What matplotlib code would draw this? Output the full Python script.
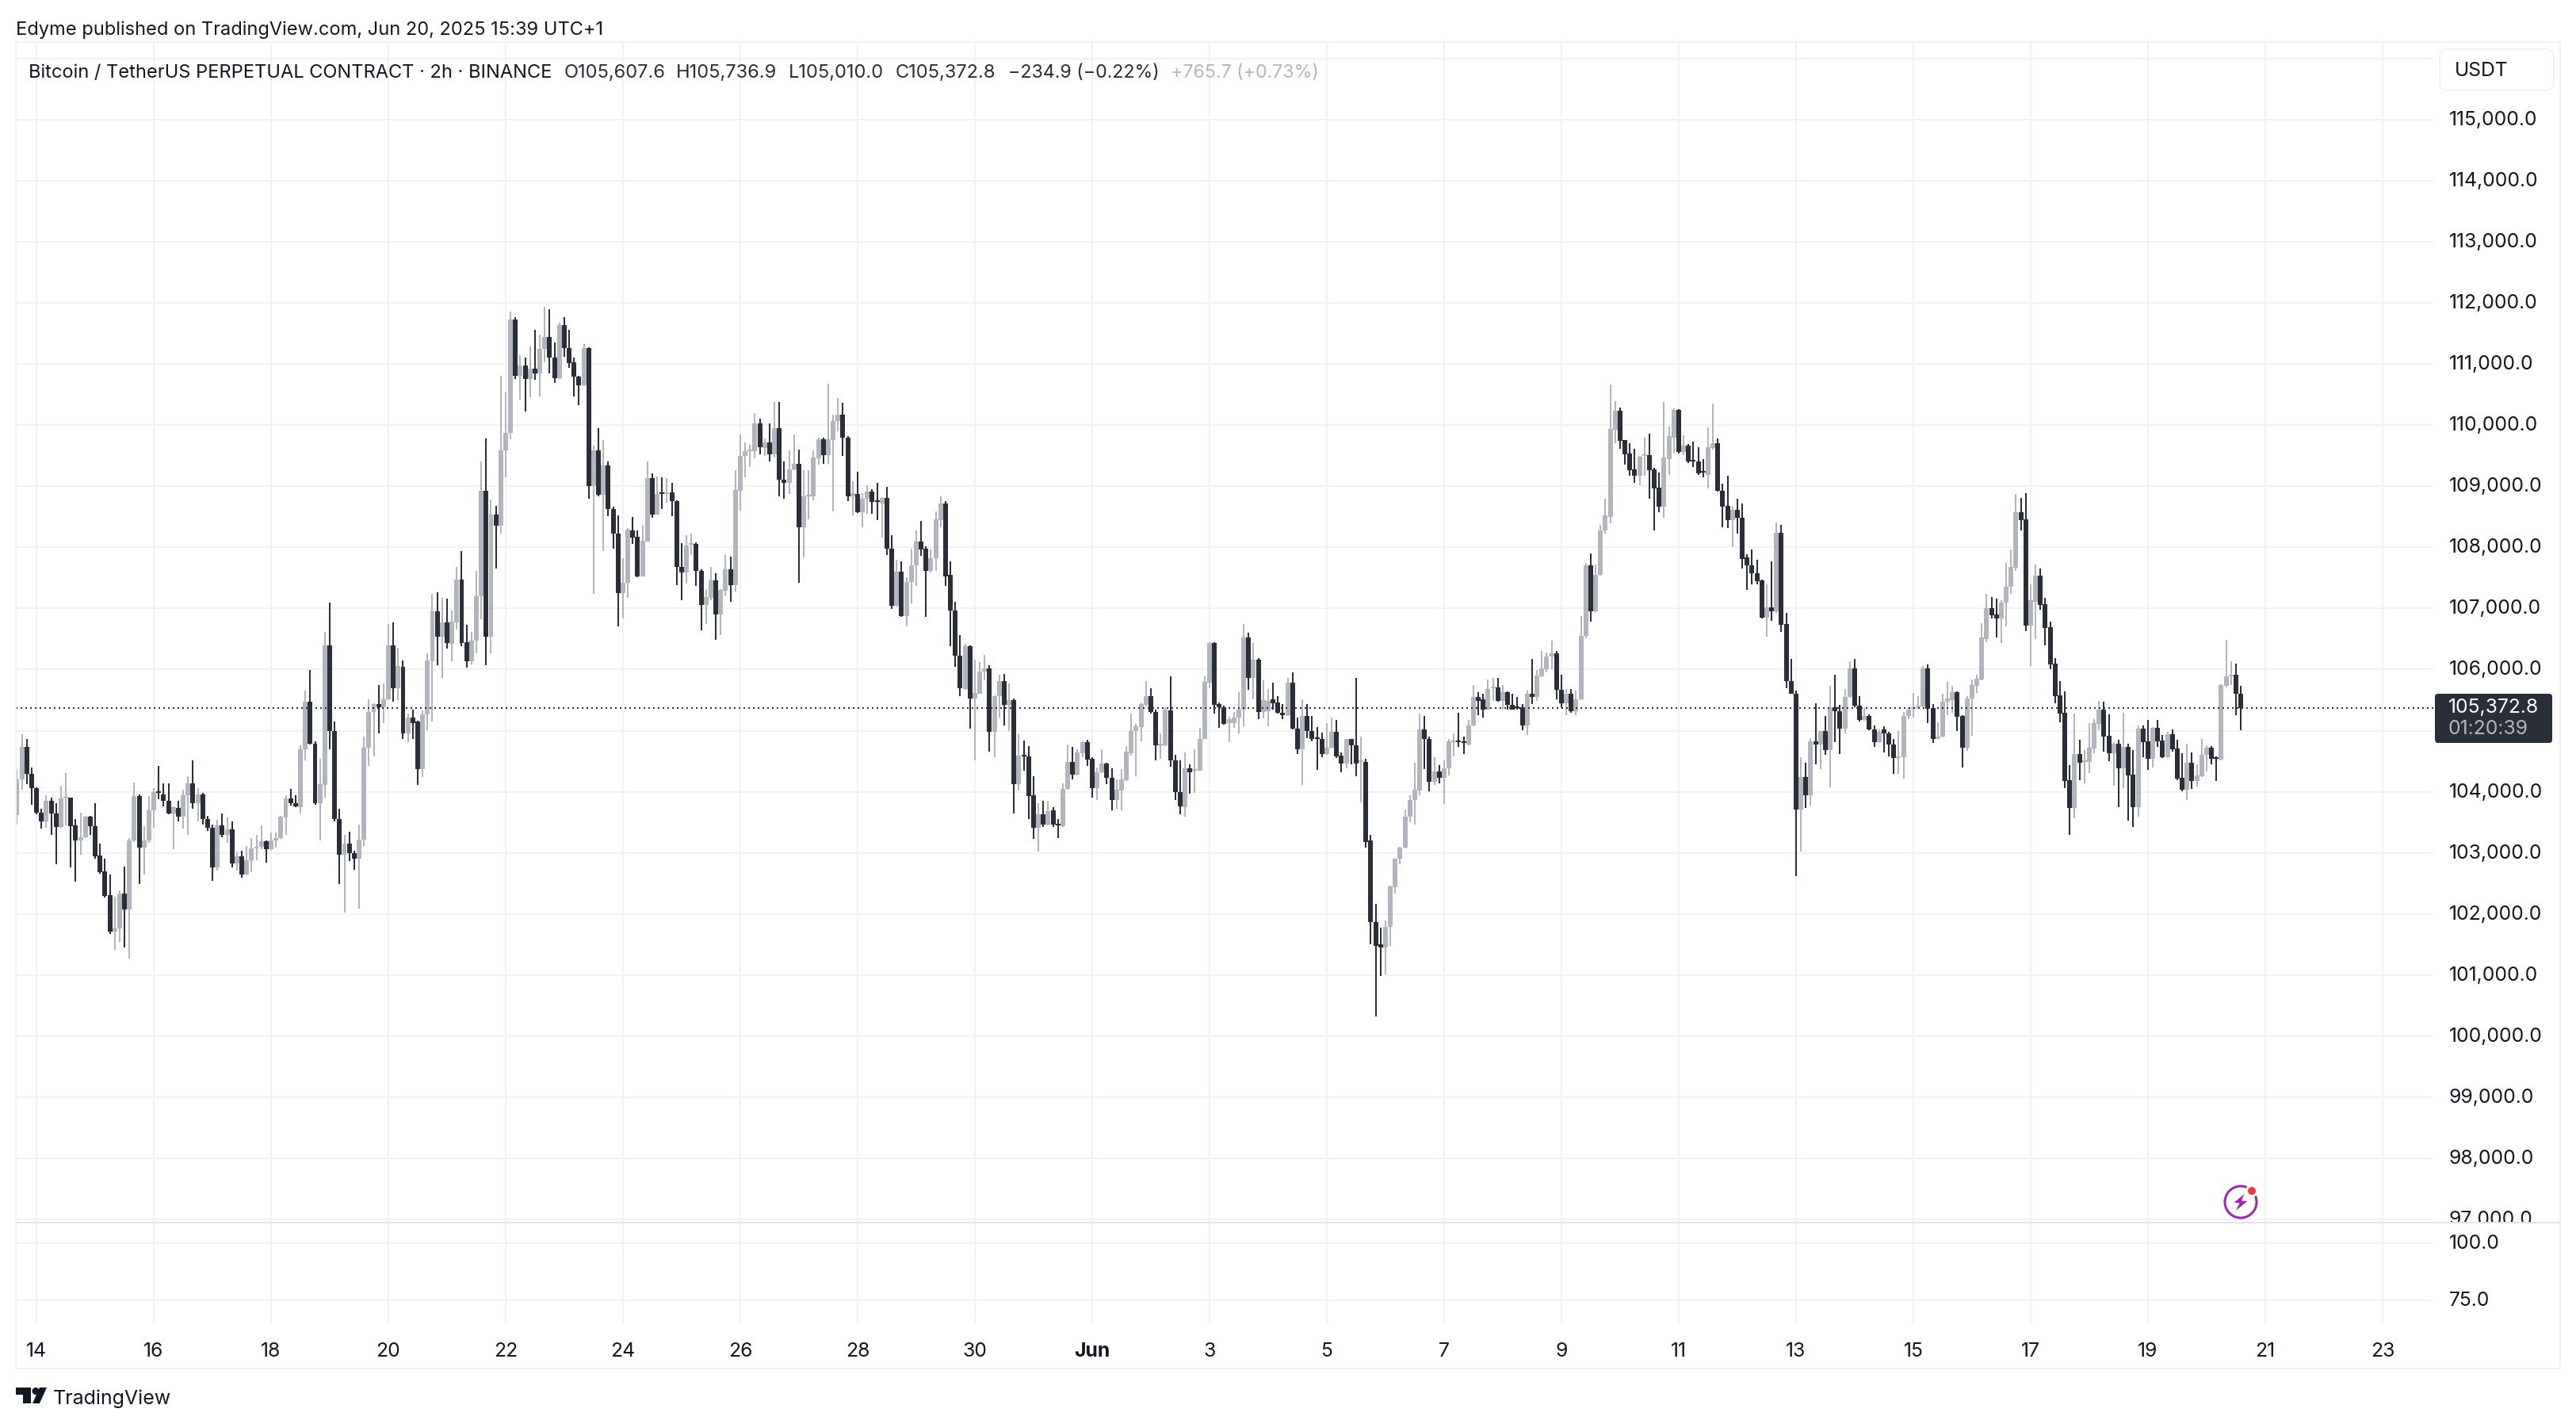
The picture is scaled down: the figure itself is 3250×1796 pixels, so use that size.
import numpy as np
import matplotlib
matplotlib.use("Agg")
import matplotlib.pyplot as plt
from matplotlib.patches import Rectangle, Polygon, Circle, FancyBboxPatch
from matplotlib.transforms import IdentityTransform, ScaledTranslation

# BTCUSDT.P 2h candles, first bar is 13 May 16:00
opens = [
    103620,104200,104730,104290,104060,103660,103520,103850,103640,103420,
    103890,103900,103450,103200,103260,103590,103440,102960,102700,102310,
    101710,101770,102330,102070,103200,103930,103090,103210,103700,104000,
    103960,103850,103640,103740,103590,103940,104140,103810,103960,103550,
    103410,102770,103450,103290,103390,102830,102940,102650,102880,103070,
    103100,103190,103060,103200,103240,103580,103890,103820,103750,104690,
    105470,104790,103810,104110,106390,105000,103550,102970,103150,103000,
    102900,103220,104720,105310,105440,105380,105510,106390,105690,106050,
    104960,105220,105150,104370,105270,106140,106950,106540,106770,106420,
    106770,107470,106450,106130,106470,107200,108930,106540,108540,108350,
    109580,109870,111730,110810,110980,110750,110920,110840,111240,111440,
    111110,110770,111640,111260,111020,110790,110650,111260,109000,109590,
    108860,109340,108630,108220,107250,107420,108280,108170,107530,108100,
    109130,108540,108890,108870,108900,108760,107680,107590,108040,108060,
    107620,107060,107180,107460,106900,107290,107640,107380,108930,109490,
    109570,109570,110030,109630,109710,109520,109950,109110,109050,109270,
    109370,108330,108840,108840,109460,109770,109510,109750,110070,110170,
    109800,108840,108870,108580,108790,108910,108750,108720,108810,107980,
    107040,107600,106870,107430,107700,108090,107980,107610,107820,108450,
    108720,107550,106960,106230,105680,106380,105520,105610,105970,106020,
    104980,105560,105810,105420,105500,104120,104610,104580,103940,103410,
    103630,103470,103700,103480,103440,104050,104490,104280,104630,104810,
    104540,104060,104320,104460,104230,103860,104020,104190,104630,104990,
    105060,105420,105570,105310,104760,104760,105330,104520,104000,103750,
    104380,104340,104350,104870,105790,106430,105430,105390,105130,105130,
    105220,105350,106530,105870,106160,105300,105320,105510,105460,105290,
    105250,105780,105030,104700,105240,104990,104880,104860,104620,104720,
    104980,104590,104460,104860,104760,104490,104490,103200,101870,101500,
    101450,101790,102440,102900,103090,103590,103870,104020,105020,104860,
    104160,104330,104230,104390,104810,104830,104820,104770,105080,105550,
    105510,105350,105700,105710,105490,105630,105420,105390,105380,105080,
    105600,105550,105890,106010,106220,106270,105670,105450,105610,105320,
    105510,106550,107700,106950,107550,108270,108500,109920,110230,109750,
    109530,109270,109170,109500,109510,109270,108980,108660,109450,109800,
    110250,109560,109670,109430,109400,109230,109190,109620,109700,108930,
    108680,108440,108610,108490,107830,107710,107580,107460,106850,107020,
    106950,108240,106740,105810,105610,103710,104240,103950,104830,104770,
    104990,104680,105380,105320,105040,105550,106020,105410,105170,105240,
    105020,104810,105020,104950,104780,104550,104570,105240,105360,105380,
    105400,106020,105370,104870,104900,105470,105500,105630,105240,104720,
    105520,105740,105840,106500,107010,106900,106830,107090,107350,107670,
    108580,108460,106720,107110,107540,107070,106700,106100,105580,105290,
    104190,103740,104620,104490,104490,104710,105110,105350,104920,104630,
    104790,104380,104740,104280,103750,105030,104830,104540,105050,104840,
    104570,104940,104710,104230,104030,104480,104180,104250,104610,104720,
    104570,104530,105740,105890,105920,105607.6,
]
highs = [
    104360,104940,104870,104400,104070,103730,103940,103910,103820,104100,
    104310,103910,103550,103660,103610,103610,103810,103150,102910,102650,
    102280,102390,102780,103240,104150,103960,103440,103930,104060,104430,
    104140,104140,103760,103850,104030,104260,104510,104060,103980,103610,
    103470,103540,103640,103580,103510,103020,103040,103120,103240,103300,
    103450,103200,103340,103340,103610,103940,104050,103940,104760,105650,
    105990,104830,104540,106620,107090,105150,103730,103290,103350,103030,
    103470,104900,105510,105450,105750,105770,106750,106770,106360,106150,
    105280,105350,105160,105330,106270,107240,107270,107180,107160,106970,
    107680,107940,106730,106620,107620,109410,109780,108780,108680,110810,
    110540,111850,111760,111140,111110,111290,111560,111480,111940,111900,
    111350,111680,111760,111560,111110,110800,111330,111270,109670,109950,
    109750,109410,108670,108520,107820,108320,108500,108280,108370,109410,
    109210,109160,109140,109130,109060,108770,108070,108200,108230,108080,
    107640,107320,107680,107580,107320,107880,107850,109260,109840,109710,
    109680,110190,110110,109780,110030,110380,110380,109410,109590,109850,
    109600,109260,109260,109580,109790,109790,110680,110170,110440,110360,
    109820,109080,109240,108890,109020,108950,109050,108820,108990,108200,
    107790,107770,107510,107980,108280,108430,108020,107960,108590,108840,
    108750,107770,107110,106560,106420,106390,106160,106120,106240,106070,
    105580,105920,105930,105770,105520,104940,104840,104750,104260,103820,
    103850,103850,103750,103550,104140,104780,104730,104690,104830,104850,
    104570,104400,104690,104480,104390,104200,104370,104750,105280,105110,
    105460,105810,105690,105350,104960,105390,105890,104600,104510,104640,
    104450,104690,105050,105890,106450,106450,105460,105410,105230,105300,
    105630,106750,106600,106430,106190,105830,105680,105790,105560,105430,
    105860,105950,105220,105510,105430,105240,105060,104970,105130,105220,
    105170,104650,104870,104870,105860,104900,104540,103300,102170,101780,
    101890,102460,102910,103100,103710,103950,104480,105280,105240,104910,
    104570,104440,104520,104860,104960,105290,104910,105180,105750,105630,
    105610,105840,105860,105860,105750,105640,105600,105550,105440,105660,
    106180,105990,106300,106280,106470,106310,105920,105680,105680,105660,
    106870,107750,107900,107720,108370,108790,110660,110390,110290,109760,
    109700,109610,109490,109800,109860,109300,109220,110380,109970,110270,
    110260,109830,109690,109730,109640,109440,109960,110350,109780,109040,
    109170,108660,108790,108720,107890,107960,107800,107470,107400,107770,
    108400,108370,106930,106170,105660,104570,104470,104880,105450,105000,
    105240,105740,105910,105420,105680,106140,106170,105570,105370,105270,
    105090,105020,105070,104980,104860,105000,105300,105380,105620,105570,
    106060,106090,105430,105140,105600,105800,105730,105640,105250,105570,
    105840,105920,106760,107240,107190,107160,107130,107750,107970,108870,
    108810,108890,107390,107720,107650,107180,106780,106190,105810,105640,
    104440,105280,104850,104680,105130,105190,105490,105480,105270,104810,
    104850,105290,104790,104680,105090,105090,105180,105060,105180,104930,
    104980,105020,104850,104630,104790,104640,104450,104870,104760,104750,
    104580,105760,106480,106130,106100,105736.9,
]
lows = [
    103470,104030,104120,103790,103630,103400,103410,103300,102810,103410,
    103450,102760,102530,102970,103240,103290,102910,102660,102270,101680,
    101420,101550,101450,101270,103180,102490,102650,103170,103410,103880,
    103760,103630,103060,103510,103400,103290,103730,103520,103460,103360,
    102540,102710,103260,103170,102760,102710,102590,102640,102680,102880,
    103060,102840,103050,103090,103230,103290,103770,103750,103650,104510,
    104780,103790,103210,103910,104690,103510,102490,102030,102870,102730,
    102090,103110,104430,104580,104960,105130,105500,105480,105500,104870,
    104810,104870,104110,104240,105010,105150,106070,105860,106340,106130,
    106650,106380,106030,106080,106270,106820,106070,106270,107650,108230,
    109140,109770,110750,110420,110220,110450,110740,110470,111030,110850,
    110690,110760,111120,110940,110470,110330,110640,108790,107240,108840,
    107940,108510,107980,106710,106830,107180,108050,107510,107520,108090,
    108490,108530,108630,108730,108510,107380,107130,107410,107880,107370,
    106640,106740,107130,106480,106570,107200,107110,107280,108600,109140,
    109310,109460,109520,109490,109400,109470,108840,108790,108870,109260,
    107420,107830,108460,108770,109350,109370,109370,108590,109900,109490,
    108760,108520,108560,108330,108550,108550,108440,108160,107880,106990,
    107030,106860,106710,107080,107370,107860,106860,107590,107620,108330,
    107370,106380,106040,105560,105670,105040,104510,105600,105830,104660,
    104570,105220,105080,105000,103650,104020,104340,103550,103230,103020,
    103420,103450,103420,103240,103430,104040,104200,104270,104570,104420,
    103910,103860,104310,104120,103700,103730,103700,104180,104590,104260,
    104820,105400,105280,104520,104540,104750,104410,103860,103630,103590,
    103970,103980,104340,104860,105700,105280,105050,105100,104810,105050,
    104960,105070,105670,105510,105190,105200,105070,105350,105280,105190,
    105240,105020,104620,104110,104880,104830,104360,104570,104600,104710,
    104550,104320,104390,104450,104250,103830,103090,101500,100330,100990,
    101010,101480,102330,102820,103080,103500,103470,103950,104370,104010,
    104110,104140,103800,104270,104580,104730,104620,104760,105070,105250,
    105220,105340,105490,105480,105350,105350,105340,105350,105010,104930,
    105440,105490,105880,105950,106000,105510,105380,105250,105290,105260,
    105500,106510,106790,106940,107540,108230,108390,109700,109610,109350,
    109170,109050,109010,109170,108800,108280,108570,108480,109190,109540,
    109530,109510,109380,109320,109180,109140,108960,109600,108910,108330,
    108310,108010,108220,107660,107300,107400,107400,106840,106540,106800,
    106930,106620,105700,105600,102620,103020,103740,103770,104450,104370,
    104610,104070,104810,104620,104960,105540,105380,105150,105160,105010,
    104740,104800,104650,104580,104290,104300,104220,105190,105210,105360,
    105380,105130,104800,104860,104890,105260,105290,105000,104400,104670,
    104920,105620,105820,106450,106830,106530,106440,106710,107240,107620,
    108270,106630,106060,106500,106980,106400,106010,105450,105140,104060,
    103290,103570,104190,104140,104310,104630,105010,104660,104500,104100,
    103750,104060,103530,103420,103590,104570,104360,104400,104740,104550,
    104560,104660,104190,104010,103870,104050,104090,104240,104330,104450,
    104180,104520,105710,105750,105250,105010,
]
closes = [
    104200,104730,104290,104060,103660,103520,103850,103640,103430,103890,
    103910,103440,103200,103260,103600,103440,102950,102680,102300,101710,
    101770,102330,102070,103200,103930,103090,103210,103700,103990,103980,
    103850,103640,103750,103600,103940,104140,103810,103960,103550,103410,
    102770,103450,103290,103390,102830,102940,102650,102880,103070,103100,
    103190,103060,103200,103240,103600,103890,103810,103760,104690,105470,
    104790,103810,104120,106390,105000,103550,102970,103150,103000,102900,
    103220,104720,105310,105430,105390,105510,106390,105690,106060,104960,
    105220,105130,104370,105270,106150,106950,106540,106770,106430,106790,
    107470,106430,106130,106470,107200,108930,106540,108540,108350,109590,
    109870,111730,110810,110980,110750,110920,110840,111240,111440,111110,
    110770,111640,111260,111010,110790,110650,111260,109000,109590,108860,
    109340,108630,108220,107250,107420,108290,108160,107530,108110,109130,
    108540,108870,108870,108900,108760,107680,107590,108030,108060,107620,
    107060,107190,107460,106900,107300,107640,107380,108940,109490,109570,
    109590,110030,109640,109710,109520,109950,109110,109050,109270,109370,
    108330,108840,108860,109470,109770,109510,109770,110070,110170,109800,
    108840,108880,108580,108790,108910,108740,108740,108810,107980,107040,
    107600,106870,107430,107700,108090,107970,107610,107820,108460,108720,
    107530,106960,106230,105690,106380,105520,105620,105970,106020,104980,
    105570,105810,105420,105500,104120,104590,104580,103930,103410,103630,
    103460,103690,103470,103450,104050,104490,104280,104640,104810,104530,
    104060,104320,104460,104230,103860,104030,104200,104660,104990,105070,
    105430,105570,105310,104760,104780,105340,104510,103990,103760,104380,
    104320,104360,104870,105800,106430,105420,105390,105110,105190,105220,
    105350,106530,105870,106160,105300,105500,105490,105450,105290,105250,
    105780,105030,104700,105240,104990,104860,104860,104620,104720,104980,
    104580,104460,104860,104760,104460,104500,103180,101870,101480,101450,
    101790,102450,102900,103090,103600,103870,104030,105020,104860,104160,
    104330,104230,104390,104820,104830,104810,104800,105090,105550,105490,
    105350,105680,105720,105490,105630,105420,105350,105370,105090,105600,
    105550,105900,106020,106220,106260,105670,105450,105600,105320,105510,
    106550,107700,106950,107550,108280,108520,109930,110230,109740,109520,
    109260,109170,109480,109520,109260,108970,108660,109470,109820,110250,
    109560,109670,109410,109400,109210,109220,109640,109700,108920,108670,
    108440,108610,108480,107810,107700,107570,107450,106850,107020,106950,
    108240,106730,105810,105610,103710,104240,103950,104830,104770,104990,
    104680,105380,105320,105040,105550,106020,105410,105170,105240,105020,
    104810,104980,104950,104770,104550,104580,105240,105350,105390,105410,
    106020,105360,104870,104910,105470,105520,105630,105230,104720,105530,
    105750,105850,106520,107010,106890,106830,107100,107360,107680,108580,
    108450,106720,107130,107540,107060,106680,106090,105570,105280,104180,
    103740,104620,104480,104510,104720,105130,105350,104900,104630,104790,
    104380,104740,104270,103750,105030,104810,104540,105050,104830,104570,
    104940,104700,104220,104030,104480,104180,104270,104610,104720,104540,
    104540,105750,105890,105920,105600,105372.8,
]

last_price = 105372.8
first_bar = -4  # bars before the 14 May 00:00 tick
bars_per_day = 12

date_labels = ["14", "16", "18", "20", "22", "24", "26", "28", "30", "Jun", "3",
               "5", "7", "9", "11", "13", "15", "17", "19", "21", "23"]
date_days = [0, 2, 4, 6, 8, 10, 12, 14, 16, 18, 20, 22, 24, 26, 28, 30, 32, 34, 36, 38, 40]
price_ticks = [97000, 98000, 99000, 100000, 101000, 102000, 103000, 104000, 105000, 106000,
               107000, 108000, 109000, 110000, 111000, 112000, 113000, 114000, 115000, 116000]
hidden_ticks = [105000, 116000]  # sit under the price tag and the USDT button
lower_ticks = [75, 100]

W, H = 3250, 1796
DARK = "#2a2e39"
GREY = "#b2b5be"
TEXT = "#131722"
GRID = "#f2f2f5"
FONT = "Inter"
PX = 0.72  # one pixel in points at dpi 100
AXIS_SIZE = 17.8

plt.rcParams["font.family"] = [FONT, "DejaVu Sans"]
fig = plt.figure(figsize=(W / 100, H / 100), dpi=100, facecolor="white")


def add_axes_px(x0, y0, x1, y1):
    return fig.add_axes([x0 / W, 1 - y1 / H, (x1 - x0) / W, (y1 - y0) / H])


ax = add_axes_px(20, 53, 3070, 1542)
ax2 = add_axes_px(20, 1542, 3070, 1670)

for a in (ax, ax2):
    a.set_xlim(-4.22, 490.4)
    a.set_xticks([d * bars_per_day for d in date_days])
    a.grid(True, color=GRID, linewidth=2 * PX)
    a.set_axisbelow(True)
    for s in a.spines.values():
        s.set_visible(False)
    a.yaxis.tick_right()
    a.tick_params(axis="both", length=0, colors=TEXT, labelsize=AXIS_SIZE)
    a.tick_params(axis="y", pad=14)

ax.set_ylim(96953, 116266)
ax.set_yticks(price_ticks)
ax.set_yticklabels(["" if v in hidden_ticks else f"{v:,.1f}" for v in price_ticks])
ax.tick_params(axis="x", labelbottom=False)

ax2.set_ylim(64.6, 109.0)
ax2.set_yticks(lower_ticks)
ax2.set_yticklabels([f"{v:.1f}" for v in lower_ticks])
ax2.set_xticklabels(date_labels)
ax2.tick_params(axis="x", pad=16.5)
for lab in ax2.get_xticklabels():
    if lab.get_text() == "Jun":
        lab.set_fontweight("bold")

# nudge the price labels up a little
nudge = ScaledTranslation(0, 2 * PX / 72, fig.dpi_scale_trans)
for a in (ax, ax2):
    for lab in a.get_yticklabels():
        lab.set_transform(lab.get_transform() + nudge)

# candles
x = np.arange(len(closes)) + first_bar
o = np.array(opens)
c = np.array(closes)
colors = np.where(c >= o, GREY, DARK)
body_low = np.minimum(o, c)
body_h = np.maximum(np.abs(c - o), 26)
for col in (GREY, DARK):
    m = colors == col
    ax.vlines(x[m], np.array(lows)[m], np.array(highs)[m], color=col, linewidth=2 * PX, zorder=3)
    ax.bar(x[m], body_h[m], bottom=body_low[m], width=0.97, color=col, linewidth=0, zorder=3)

ax.axhline(last_price, color=DARK, linewidth=2 * PX, linestyle=(0, (1, 2)), zorder=4)

idt = IdentityTransform()


def pxline(x0, y0, x1, y1, color=GRID, lw=2):
    fig.add_artist(plt.Line2D([x0, x1], [H - y0, H - y1], color=color, linewidth=lw * PX,
                              transform=idt, solid_capstyle="butt", zorder=6))


def label(xp, yp, s, color=TEXT, size=17, **kw):
    fig.text(xp / W, 1 - yp / H, s, color=color, fontsize=size, va="center", zorder=8, **kw)


# hide the bottom of the 97,000 label under the pane separator
fig.add_artist(Rectangle((3072, H - 1556), 156, 14, color="white", transform=idt, zorder=5))

# frame
pxline(20, 53, 3230, 53)
pxline(20, 53, 20, 1726)
pxline(3230, 53, 3230, 1726)
pxline(20, 1726, 3230, 1726)
pxline(20, 1542, 3230, 1542, color="#e0e3eb", lw=2)

# header
label(20, 38, "Edyme published on TradingView.com, Jun 20, 2025 15:39 UTC+1")
label(36, 92, "Bitcoin / TetherUS PERPETUAL CONTRACT · 2h · BINANCE", color=TEXT)
legend_x = [712, 853, 995, 1130]
legend_s = ["O105,607.6", "H105,736.9", "L105,010.0", "C105,372.8"]
for xp, s in zip(legend_x, legend_s):
    label(xp, 92, s, color=DARK)
label(1272, 92, "−234.9 (−0.22%)", color=DARK, size=16.7)
label(1477, 92, "+765.7 (+0.73%)", color=GREY, size=16.7)

# USDT button
fig.add_artist(FancyBboxPatch((3084, H - 108), 132, 40, boxstyle="round,pad=6,rounding_size=10",
                              facecolor="white", edgecolor="#f0f0f3", linewidth=1.5 * PX,
                              transform=idt, zorder=5))
label(3097, 89, "USDT", color=TEXT, size=AXIS_SIZE)

# last price tag
fig.add_artist(FancyBboxPatch((3076, H - 933), 140, 54, boxstyle="round,pad=4,rounding_size=4",
                              facecolor=DARK, edgecolor="none", transform=idt, zorder=7))
label(3089, 892, "105,372.8", color="white", size=AXIS_SIZE)
label(3089, 919, "01:20:39", color=GREY, size=AXIS_SIZE)

# alert icon
cx, cy = 2827, 1516
PURPLE = "#9c27b0"
fig.add_artist(Circle((cx, H - cy), 20, fill=False, edgecolor=PURPLE, linewidth=3 * PX,
                      transform=idt, zorder=6))
bolt = [(4.6, -10), (-8.4, 0.7), (-1.4, 1.3), (-6, 10.7), (8.4, -1), (1, -1.7)]
fig.add_artist(Polygon([(cx + a, H - cy - b) for a, b in bolt], closed=True, facecolor=PURPLE,
                       edgecolor="none", transform=idt, zorder=6))
fig.add_artist(Circle((2841, H - 1502), 8, facecolor="white", edgecolor="none", transform=idt, zorder=6))
fig.add_artist(Circle((2841, H - 1502), 5, facecolor="#f23645", edgecolor="none", transform=idt, zorder=7))

# TradingView logo
LOGO = "#131722"
fig.add_artist(Polygon([(20, H - 1750), (39, H - 1750), (39, H - 1770), (29, H - 1770),
                        (29, H - 1759), (20, H - 1759)], closed=True, facecolor=LOGO,
                       edgecolor="none", transform=idt, zorder=6))
fig.add_artist(Circle((45, H - 1754.5), 4.5, facecolor=LOGO, edgecolor="none", transform=idt, zorder=6))
fig.add_artist(Polygon([(50, H - 1750), (59, H - 1750), (50, H - 1770), (41, H - 1770)], closed=True,
                       facecolor=LOGO, edgecolor="none", transform=idt, zorder=6))
label(67, 1764, "TradingView", color=TEXT, size=18)

fig.savefig("out.png", dpi=100, facecolor="white")
